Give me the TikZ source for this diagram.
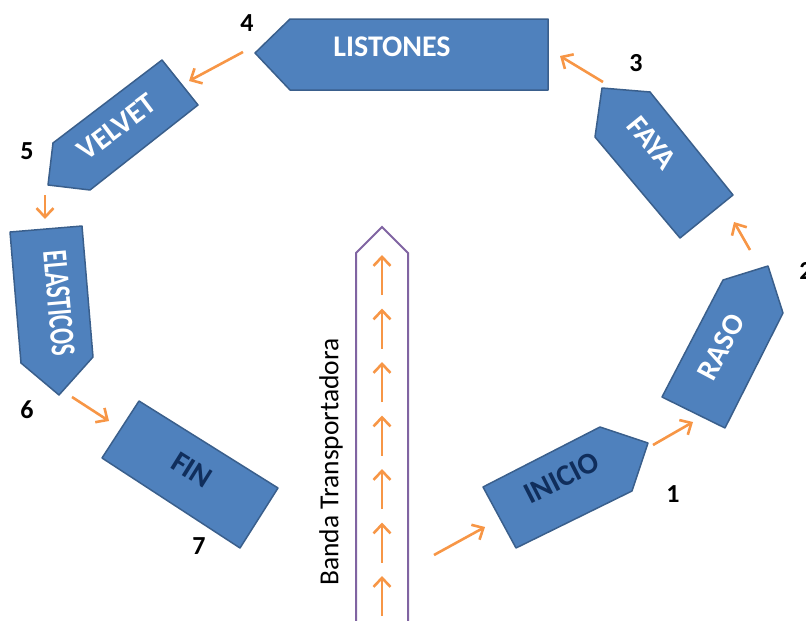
\documentclass[tikz,border=0pt]{standalone}
\usepackage{fontspec}
\setmainfont{Carlito}
\usetikzlibrary{arrows.meta}
\definecolor{boxfill}{HTML}{4F81BD}
\definecolor{boxedge}{HTML}{3A5F8C}
\definecolor{flowor}{HTML}{F79646}
\definecolor{beltline}{HTML}{8064A2}
\definecolor{navy}{HTML}{102E5C}
\begin{document}
\begin{tikzpicture}[x=1pt,y=-1pt,
  stage/.style={fill=boxfill, draw=boxedge, line width=1.5pt, line join=round},
  flow/.style={draw=flowor, line width=2.6pt, -{Straight Barb[length=9pt,width=17pt]}},
  lbl/.style={text=white, inner sep=0pt, font=\bfseries\fontsize{30}{30}\selectfont},
  dark/.style={text=navy, inner sep=0pt, font=\bfseries\fontsize{30}{30}\selectfont},
  num/.style={inner sep=0pt, font=\bfseries\fontsize{26}{26}\selectfont}]
\useasboundingbox (0,0) rectangle (806,621);
\clip (0,0) rectangle (806,621);

% process stages
\draw[stage] (290,19) -- (548,19) -- (548,90) -- (290,90) -- (255,53) -- cycle;
\node[lbl] (listones) at (392,47) {LISTONES};

\draw[stage] (162,60) -- (198,105) -- (90,190) -- (48,185) -- (53,143) -- cycle;
\node[lbl, rotate=37] (velvet) at (117,127) {VELVET};

\draw[stage] (10,232) -- (82,226) -- (93,357) -- (59,395) -- (21,363) -- cycle;
\node[text=white, inner sep=0pt, font=\bfseries\fontsize{35}{35}\selectfont, rotate=-85, xscale=0.68] (elasticos) at (59,303) {ELASTICOS};

\draw[stage] (139,401) -- (278,488) -- (240,548) -- (102,458) -- cycle;
\node[dark, rotate=-32] (fin) at (192,470) {FIN};

\draw[stage] (483,487) -- (600,427) -- (648,443) -- (632,491) -- (516,548) -- cycle;
\node[dark, rotate=27] (inicio) at (562,478) {INICIO};

\draw[stage] (662,397) -- (723,280) -- (768,266) -- (783,313) -- (725,428) -- cycle;
\node[lbl, rotate=62] (raso) at (721,347) {RASO};

\draw[stage] (602,88) -- (650,92) -- (733,195) -- (680,238) -- (595,137) -- cycle;
\node[lbl, rotate=-51] (faya) at (652,143) {FAYA};

% step numbers
\node[num] (n1) at (673,494) {1};
\node[num] (n2) at (806,271) {2};
\node[num] (n3) at (636,63) {3};
\node[num] (n4) at (247,23) {4};
\node[num] (n5) at (27,151) {5};
\node[num] (n6) at (27,410) {6};
\node[num] (n7) at (199,546) {7};

% conveyor belt
\draw[beltline, line width=2pt, line join=miter] (356,640) -- (356,253) -- (382,227) -- (408,253) -- (408,640);
\node[inner sep=0pt, rotate=90, font=\fontsize{27.5}{27.5}\selectfont] (banda) at (331,462) {Banda Transportadora};
\foreach \k in {0,...,6} {
  \coordinate (bt\k) at (382,{255+53.5*\k+40});
  \coordinate (bh\k) at (382,{255+53.5*\k});
  \draw[flow] (bt\k) -- (bh\k);
}

% flow connectors between stages
\coordinate (s0) at (434,555); \coordinate (e0) at (485,527);
\coordinate (s1) at (653,445); \coordinate (e1) at (693,422);
\coordinate (s2) at (750,250); \coordinate (e2) at (734,222);
\coordinate (s3) at (603,82);  \coordinate (e3) at (560,56);
\coordinate (s4) at (243,52);  \coordinate (e4) at (189,81);
\coordinate (s5) at (45,195);  \coordinate (e5) at (45,219);
\coordinate (s6) at (72,397);  \coordinate (e6) at (109,421);
\foreach \i in {0,...,6} { \draw[flow] (s\i) -- (e\i); }
\end{tikzpicture}
\end{document}
